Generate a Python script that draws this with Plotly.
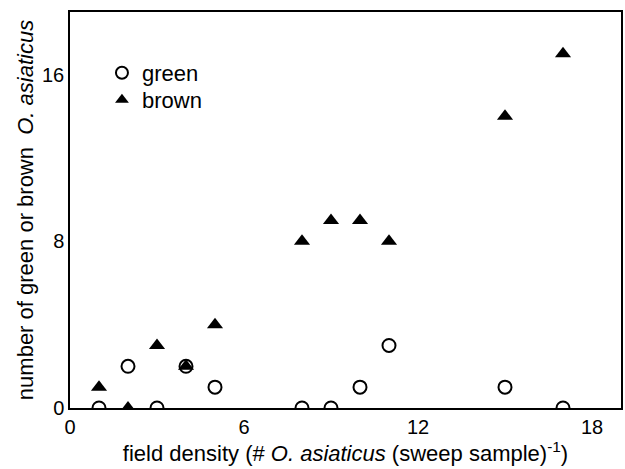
import plotly.graph_objects as go

density = [1, 2, 3, 4, 5, 8, 9, 10, 11, 15, 17]
green = [0, 2, 0, 2, 1, 0, 0, 1, 3, 1, 0]
brown = [1, 0, 3, 2, 4, 8, 9, 9, 8, 14, 17]
x_ticks = [0, 6, 12, 18]
y_ticks = [0, 8, 16]

fig = go.Figure()
fig.add_trace(go.Scatter(x=density, y=green, mode="markers", name="green", legend="legend",
                         marker=dict(symbol="circle-open", size=13, color="black",
                                     line=dict(width=2, color="black"))))
fig.add_trace(go.Scatter(x=density, y=brown, mode="markers", name="brown", legend="legend2",
                         marker=dict(symbol="triangle-up", size=14, color="black")))

fam = "Liberation Sans, Arial, sans-serif"
leg_common = dict(xanchor="left", yanchor="middle", bgcolor="rgba(0,0,0,0)",
                  font=dict(family=fam, size=22, color="black"), itemsizing="constant")
fig.update_layout(
    width=625, height=469,
    margin=dict(l=70, r=2, t=12, b=61),
    paper_bgcolor="white", plot_bgcolor="white",
    font=dict(family=fam, size=20, color="black"),
    showlegend=True,
    legend=dict(x=0.058, y=0.846, **leg_common),
    legend2=dict(x=0.058, y=0.778, **leg_common),
    xaxis=dict(range=[0, 19], tickvals=x_ticks, ticks="", showgrid=False, zeroline=False,
               showline=True, linecolor="black", linewidth=1.5, mirror=True,
               tickfont=dict(family=fam, size=20, color="black"),
               title=dict(text="field density (# <i>O. asiaticus</i> (sweep sample)<sup>-1</sup>)",
                          standoff=4, font=dict(family=fam, size=22, color="black"))),
    yaxis=dict(range=[0, 19], tickvals=y_ticks, ticks="", showgrid=False, zeroline=False,
               showline=True, linecolor="black", linewidth=1.5, mirror=True,
               tickfont=dict(family=fam, size=20, color="black"),
               title=dict(text="number of green or brown  <i>O. asiaticus</i>",
                          standoff=2, font=dict(family=fam, size=22, color="black"))),
)
fig.write_html("out.html")
